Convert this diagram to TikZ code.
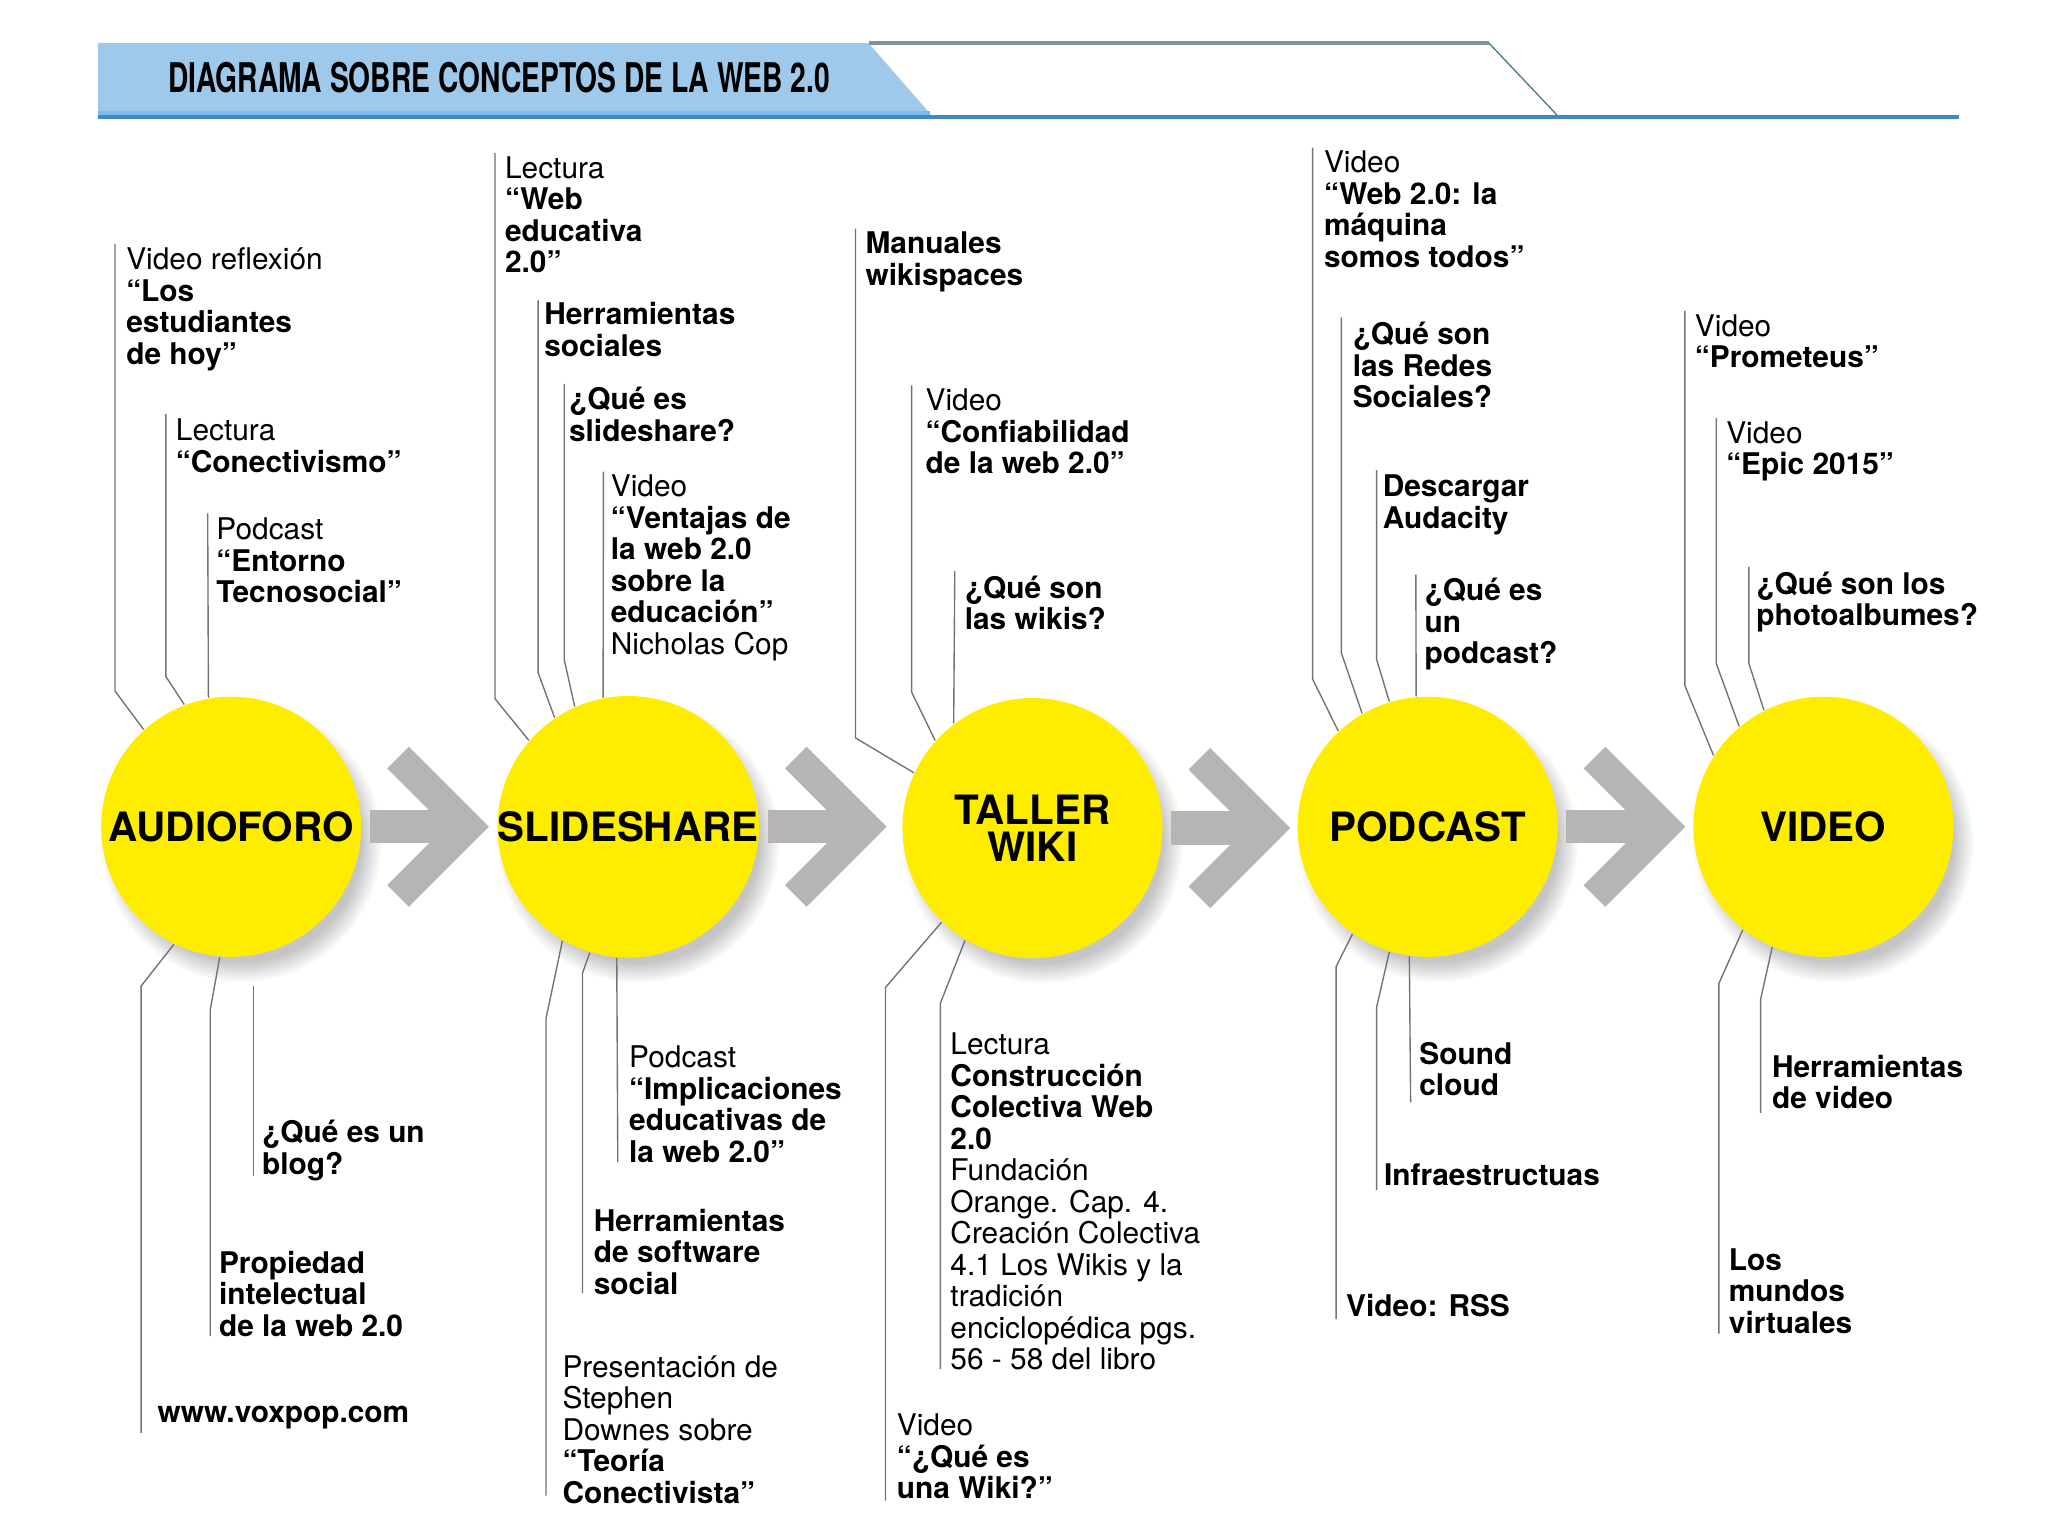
\documentclass[tikz,border=0pt]{standalone}
\usepackage{fontspec}
\setmainfont{TeX Gyre Heros}
\usepackage{xcolor}
\usepackage{tikz}
\usetikzlibrary{shapes,arrows,positioning,shadows}

\definecolor{wyellow}{RGB}{255,237,0}
\definecolor{bandblue}{RGB}{158,201,234}
\definecolor{stripblue}{RGB}{122,190,238}
\definecolor{lineblue}{RGB}{66,135,196}
\definecolor{edgegray}{RGB}{125,150,158}
\definecolor{edgeblue}{RGB}{70,120,150}
\definecolor{arrowgray}{RGB}{181,181,181}

\begin{document}
\begin{tikzpicture}[
    x=0.01cm, y=-0.01cm,
    % Header
    headtext/.style={anchor=base west, inner sep=0pt, font=\fontsize{8.9}{9}\selectfont\bfseries},
    % Topics
    topic/.style={circle, fill=wyellow, minimum size=1.99cm, inner sep=0pt, align=center, font=\fontsize{8.8}{8}\selectfont\bfseries,
        circular drop shadow={shadow xshift=2pt, shadow yshift=-3pt, shadow scale=1.08, opacity=0.45}},
    % Resources
    res/.style={anchor=north west, inner sep=0pt, align=left, font=\fontsize{6.5}{6.86}\selectfont},
    resb/.style={res, font=\fontsize{6.5}{6.86}\selectfont\bfseries},
    lead/.style={draw=black!55, line width=0.3pt},
    % Flow arrows
    shaft/.style={fill=arrowgray},
    chevron/.style={draw=arrowgray, line width=0.234cm, line join=miter}
]
\useasboundingbox (0,0) rectangle (1568,1176);
\fill[white] (0,0) rectangle (1568,1176);

% Header band
\fill[bandblue] (75,33) -- (665,33) -- (713,88) -- (75,88) -- cycle;
\fill[stripblue] (75,85) rectangle (712,88);
\draw[lineblue, line width=0.03cm] (75,89.5) -- (1500,89.5);
\draw[edgegray, line width=0.025cm] (665,33) -- (1140,33);
\draw[edgeblue, line width=0.01cm] (1140,33) -- (1192,88);
\node[headtext] (heading) at (128,70.5) {\scalebox{0.69}[1]{DIAGRAMA SOBRE CONCEPTOS DE LA WEB 2.0}};

% Topics
\node[topic] (audioforo) at (177,633) {AUDIOFORO};
\node[topic] (slideshare) at (481,633) {SLIDESHARE};
\node[topic] (wiki) at (790.5,634) {TALLER\\WIKI};
\node[topic] (podcast) at (1093,633) {PODCAST};
\node[topic] (video) at (1396,633) {VIDEO};

% Flow arrows
\foreach \a/\b in {audioforo/slideshare, slideshare/wiki, wiki/podcast, podcast/video} {
    \fill[shaft] ([shift={(6,-12.7)}]\a.east) rectangle ([shift={(70,12.7)}]\a.east);
    \draw[chevron] ([shift={(27.5,-53)}]\a.east) -- ([shift={(80.5,0)}]\a.east) -- ([shift={(27.5,53)}]\a.east);
}

% AUDIOFORO resources
\node[res] (estudiantes) at (96,189) {Video reflexión\\\textbf{“Los}\\\textbf{estudiantes}\\\textbf{de hoy”}};
\node[res] (conectivismo) at (134,320) {Lectura\\\textbf{“Conectivismo”}};
\node[res] (entorno) at (165,396) {Podcast\\\textbf{“Entorno}\\\textbf{Tecnosocial”}};
\node[resb] (voxpop) at (120,1076) {www.voxpop.com};
\node[resb] (propiedad) at (167,957) {Propiedad\\intelectual\\de la web 2.0};
\node[resb] (blog) at (200,857) {¿Qué es un\\blog?};

\draw[lead] ([shift={(-8,-2)}]estudiantes.north west) -- ++(0,342) -- (audioforo.132);
\draw[lead] ([shift={(-7,-3)}]conectivismo.north west) -- ++(0,201) -- (audioforo.111);
\draw[lead] ([shift={(-6,-3)}]entorno.north west) -- (audioforo.100);
\draw[lead] ([shift={(-12,21)}]voxpop.north west) -- ++(0,-342) -- (audioforo.244);
\draw[lead] ([shift={(-6,66)}]propiedad.north west) -- ++(0,-250) -- (audioforo.265);
\draw[lead] ([shift={(-6,43)}]blog.north west) -- ++(0,-145);

% SLIDESHARE resources
\node[res] (webedu) at (386,119) {Lectura\\\textbf{“Web}\\\textbf{educativa}\\\textbf{2.0”}};
\node[resb] (hsociales) at (416,231) {Herramientas\\sociales};
\node[resb] (queslide) at (435,296) {¿Qué es\\slideshare?};
\node[res] (ventajas) at (467,363) {Video\\\textbf{“Ventajas de}\\\textbf{la web 2.0}\\\textbf{sobre la}\\\textbf{educación”}\\Nicholas Cop};
\node[res] (implicaciones) at (481,800) {Podcast\\\textbf{“Implicaciones}\\\textbf{educativas de}\\\textbf{la web 2.0”}};
\node[resb] (hsoftware) at (454,925) {Herramientas\\de software\\social};
\node[res] (downes) at (430,1037) {Presentación de\\Stephen\\Downes sobre\\\textbf{“Teoría}\\\textbf{Conectivista”}};

\draw[lead] ([shift={(-7,-2)}]webedu.north west) -- ++(0,418) -- (slideshare.139);
\draw[lead] ([shift={(-4,-1)}]hsociales.north west) -- ++(0,285) -- (slideshare.124);
\draw[lead] ([shift={(-3,-2)}]queslide.north west) -- ++(0,211) -- (slideshare.114);
\draw[lead] ([shift={(-5,-2)}]ventajas.north west) -- (slideshare.101);
\draw[lead] ([shift={(-8,90)}]implicaciones.north west) -- (slideshare.265);
\draw[lead] ([shift={(-8,65)}]hsoftware.north west) -- ++(0,-245) -- (slideshare.253);
\draw[lead] ([shift={(-12,108)}]downes.north west) -- ++(0,-365) -- (slideshare.240);

% TALLER WIKI resources
\node[resb] (manuales) at (662,177) {Manuales\\wikispaces};
\node[res] (confiabilidad) at (708,297) {Video\\\textbf{“Confiabilidad}\\\textbf{de la web 2.0”}};
\node[resb] (quewikis) at (738,440) {¿Qué son\\las wikis?};
\node[res] (construccion) at (727,790) {Lectura\\\textbf{Construcción}\\\textbf{Colectiva Web}\\\textbf{2.0}\\Fundación\\Orange. Cap. 4.\\Creación Colectiva\\4.1 Los Wikis y la\\tradición\\enciclopédica pgs.\\56 - 58 del libro};
\node[res] (unawiki) at (686,1082) {Video\\\textbf{“¿Qué es}\\\textbf{una Wiki?”}};

\draw[lead] ([shift={(-7,-2)}]manuales.north west) -- ++(0,390) -- (wiki.155);
\draw[lead] ([shift={(-10,-2)}]confiabilidad.north west) -- ++(0,235) -- (wiki.138);
\draw[lead] ([shift={(-7,-3)}]quewikis.north west) -- (wiki.127);
\draw[lead] ([shift={(-7,258)}]construccion.north west) -- ++(0,-280) -- (wiki.239);
\draw[lead] ([shift={(-8,67)}]unawiki.north west) -- ++(0,-393) -- (wiki.226);

% PODCAST resources
\node[res] (maquina) at (1013,115) {Video\\\textbf{“Web 2.0: la}\\\textbf{máquina}\\\textbf{somos todos”}};
\node[resb] (redes) at (1035,246) {¿Qué son\\las Redes\\Sociales?};
\node[resb] (audacity) at (1058,363) {Descargar\\Audacity};
\node[resb] (quepodcast) at (1090,442) {¿Qué es\\un\\podcast?};
\node[resb] (soundcloud) at (1086,797) {Sound\\cloud};
\node[resb] (infra) at (1059,890) {Infraestructuas};
\node[resb] (rss) at (1030,990) {Video: RSS};

\draw[lead] ([shift={(-8,-2)}]maquina.north west) -- ++(0,407) -- (podcast.133);
\draw[lead] ([shift={(-8,-3)}]redes.north west) -- ++(0,257) -- (podcast.120);
\draw[lead] ([shift={(-4,-3)}]audacity.north west) -- ++(0,145) -- (podcast.107);
\draw[lead] ([shift={(-6,-2)}]quepodcast.north west) -- (podcast.95);
\draw[lead] ([shift={(-6,47)}]soundcloud.north west) -- (podcast.262);
\draw[lead] ([shift={(-5,21)}]infra.north west) -- ++(0,-140) -- (podcast.253);
\draw[lead] ([shift={(-7,20)}]rss.north west) -- ++(0,-270) -- (podcast.235);

% VIDEO resources
\node[res] (prometeus) at (1297,240) {Video\\\textbf{“Prometeus”}};
\node[res] (epic) at (1321,322) {Video\\\textbf{“Epic 2015”}};
\node[resb] (photo) at (1344,437) {¿Qué son los\\photoalbumes?};
\node[resb] (hvideo) at (1356,807) {Herramientas\\de video};
\node[resb] (mundos) at (1323,955) {Los\\mundos\\virtuales};

\draw[lead] ([shift={(-7,-2)}]prometeus.north west) -- ++(0,287) -- (video.147);
\draw[lead] ([shift={(-7,-2)}]epic.north west) -- ++(0,188) -- (video.130);
\draw[lead] ([shift={(-5,-3)}]photo.north west) -- ++(0,74) -- (video.117);
\draw[lead] ([shift={(-8,45)}]hvideo.north west) -- ++(0,-87) -- (video.247);
\draw[lead] ([shift={(-7,66)}]mundos.north west) -- ++(0,-268) -- (video.232);

\end{tikzpicture}
\end{document}
